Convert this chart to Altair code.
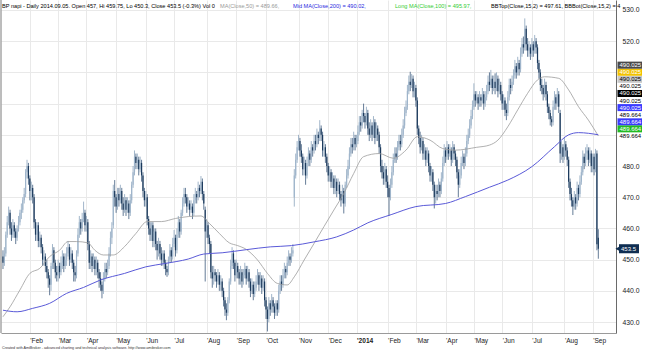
import altair as alt
import pandas as pd

# ---------------- data ----------------
closes = [
449,452,458,462,465,460,458,461,459,457,460,462,465,466,469,471,478,480,476,472,
473,470,462,458,461,456,457,454,450,451,448,446,444,442,448,453,449,446,445,448,446,
449,451,448,450,452,454,450,452,449,446,445,452,458,462,460,463,465,461,462,455,
449,451,448,450,447,449,446,444,442,440,444,447,446,448,452,457,460,472,470,467,471,469,472,468,466,469,
466,468,465,469,474,478,483,481,482,479,481,477,472,469,470,463,460,458,461,456,459,455,453,455,
452,450,452,449,447,446,450,453,451,455,457,453,458,462,459,465,468,471,470,467,468,466,467,465,469,471,470,473,472,475,471,468,
459,461,457,455,446,444,446,445,443,445,442,443,440,437,434,433,437,443,448,452,449,445,448,446,444,446,443,445,447,444,
446,443,440,442,439,441,443,445,442,444,441,443,437,434,431,436,434,437,435,433,436,434,440,443,442,445,447,446,449,451,450,452,453,477,
482,486,488,485,483,479,481,477,481,484,482,486,485,488,487,490,489,492,490,485,486,483,480,477,478,475,476,473,475,472,474,471,469,472,468,474,477,480,484,487,486,489,487,488,491,494,493,497,496,494,497,492,
490,493,490,494,489,492,490,486,480,478,476,479,475,473,470,474,478,482,484,483,486,488,487,490,493,497,499,504,507,506,508,504,505,501,492,489,486,488,484,485,482,484,
480,477,478,474,470,472,471,474,472,476,481,485,483,486,484,485,482,486,484,482,478,474,477,481,483,481,484,488,490,493,496,499,503,501,502,500,502,501,503,500,502,504,507,506,
508,505,507,505,508,504,506,503,500,501,498,497,502,506,505,507,509,512,510,513,511,516,519,518,524,519,517,518,516,519,
517,520,518,513,510,506,505,503,506,503,499,497,495,494,499,502,500,503,499,484,486,483,487,485,482,475,471,469,467,470,
468,473,471,475,478,483,481,484,485,482,484,480,483,479,484,454.9,453.5,
]

opens = [
451,449,452,458,462,465,460,458,461,459,457,460,462,465,466,469,471,478,480,476,
472,473,470,462,458,461,456,457,454,450,451,448,446,444,442,448,453,449,446,445,448,
446,449,451,448,450,452,454,450,452,449,446,445,452,458,462,460,463,465,461,462,
455,449,451,448,450,447,449,446,444,442,440,444,447,446,448,452,457,461,472,470,467,471,469,472,468,466,
469,466,468,465,469,474,478,483,481,482,479,481,477,472,469,470,463,460,458,461,456,459,455,453,
455,452,450,452,449,447,446,450,453,451,455,457,453,458,462,459,465,468,471,470,467,468,466,467,465,469,471,470,473,472,475,471,
466,459,461,457,455,446,444,446,445,443,445,442,443,440,437,434,433,437,443,448,452,449,445,448,446,444,446,443,445,447,
444,446,443,440,442,439,441,443,445,442,444,441,443,437,434,431,436,434,437,435,433,436,434,440,443,442,445,447,446,449,451,450,452,470,
477,482,486,488,485,483,479,481,477,481,484,482,486,485,488,487,490,489,492,490,485,486,483,480,477,478,475,476,473,475,472,474,471,469,472,468,474,477,480,484,487,486,489,487,488,491,494,493,497,496,494,497,
492,490,493,490,494,489,492,490,486,480,478,476,479,475,473,470,474,478,482,484,483,486,488,487,490,493,497,499,504,507,506,508,504,505,501,492,489,486,488,484,485,482,
484,480,477,478,474,470,472,471,474,472,476,481,485,483,486,484,485,482,486,484,482,478,474,477,481,483,481,484,488,490,493,496,499,503,501,502,500,502,501,503,500,502,504,507,
506,508,505,507,505,508,504,506,503,500,501,498,497,502,506,505,507,509,512,510,513,511,516,519,518,524,519,517,518,516,
519,517,520,518,513,510,506,505,503,506,503,499,497,495,494,499,502,500,503,497,484,486,483,487,485,482,475,471,469,467,
470,468,473,471,475,478,483,481,484,485,482,484,480,483,479,484,457,
]

highs = [
453,454,459,464,467,466,462,463,462,460,461,464,466,468,470,473,479,482,481,477,
475,474,471,463,462,462,459,458,455,453,452,450,447,445,449,455,454,450,448,450,449,
451,453,452,452,454,456,455,454,453,450,448,453,460,464,463,465,468.6,466,464,463,
456,453,452,452,451,451,450,447,446,443,446,449,449,450,454,459,462,474,475.5,471,473,473,474,473,470,471,
470,470,469,471,475,480,485,484,484,483,483,482,478,473,472,471,464,462,462,462,460,460,456,457,
456,454,453,453,450,448,451,455,454,457,459.5,458,460,464,463,466,470,473,473,471,470,469,469,468,471,473,472,475,474,476.8,476,472,
467,463,462,458,456,448,448,447,446,447,446,445,444,441,438,436,438,444,450,454,453,450,450,449,447,448,447,447,449,448,
448,447,444,444,443,443,445,447,446,446,445,445,444,438,435,438,437,439,438,436,437,437,442,445,445,447,449,448,451,453,452,454,455,479,
484,488,490,489,487,484,483,482,483,486,485,488,487,490,490,492,491,494.7,493,491,488,487,484,481,480,479,478,477,477,476,476,475,472,474,473,475,479,482,486,489,489,491,490,490,493,496,496,498,500,497,499,498,
494,495,494,496,495,494,493,491,487,482,480,481,480,477,474,476,480,484,486,486,488,490,490,492,495,499,501,506,509,510.2,509.5,509,507,506,502,493,491,490,489,487,486,486,
485,481,480,479,475,474,474,476,475,478,483,487,486,488,487,487,486,488,487,485,483,479,479,483,485,484,486,490,492,495,498,501,506.5,504,504,503,504,503,505,504,504,506,509,510,
510.8,509,509,509.7,510,509,508,507,504,503,502,500,504,508,508,509,511,514,513,515,514,518,521,521.5,527.3,525,521,520,519,521,
520,522,521,519,514,511,508,506,508,507,504,500,498,496,501,504,503,505,504,498,488,487,489,488,486,483,476,473,470,472,
471,475,474,477,480,485,484,486,487,486,486,485,484,484,485.5,485,459.75,
]

lows = [
447,448,451,457,461,458,456,457,457,455,456,459,461,463,465,468,470,476,474,469,
469,468,460,456,456,454,454,452,448,448,446,444,441,438.6,440,447,447,444,443,443,444,
445,447,446,447,448,451,448,449,447,443,443,444,451,457,458,459,462,459,459,453,
447,447,446,447,445,445,444,441,440,437.6,439,443,444,445,447,451,455,460,467,465,466,467,468,466,464,465,
464,465,463,464,468,473,477,479,479,477,478,475,470,467,467,461,458,456,456,454,454,453,450,451,
450,448,448,447,445,444.5,445,449,449,450,454,451,452,457,457,458,464,467,468,465,466,464,465,463,464,468,468,469,470,471,469,466,
443,457,455,452,444,441,442,443,441,442,440,440,438,435,432,430.6,432,436,442,447,447,443,444,444,442,442,441,442,444,442,
443,441,438,439,437,438,440,442,440,441,439,440,435,431,427,430,432,433,433,431,432,432,433,439,440,441,444,444,445,448,448,449,451,467,
476,481,485,483,481,477,477,474,476,480,480,481,483,484,485,486,487,488,488,483,483,481,478,475,475,473,473,471,471,470,471,469,467,468,464.8,467,473,476,479,483,484,485,485,486,487,490,491,492,494,492,493,490,
488,489,488,489,487,488,488,484,478,476,474,474,473,470,464,469,473,477,481,481,482,485,485,486,489,492,496,498,503,504,505,502,502,499,490,487,484,485,482,482,480,481,
478,475,475,472,466.4,468,469,470,470,471,475,480,481,482,482,483,480,481,482,480,476,470,473,476,480,479,480,483,487,489,492,495,498,499,500,498,499,499,500,498,499,501,503,504,
505,503,504,503,504,502,503,501,498,498,496,494.7,496,501,503,504,506,508,508,509,509,510,515,516,517,517,515,515,514,515,
515,516,516,511,508,504,503,501,502,501,497,495,493,492.6,493,498,498,499,497,481,482,481,482,483,480,473,469,467,464.3,466,
466,467,469,470,474,477,479,480,482,480,481,478,478,477,478,453,450.3,
]

# moving averages (bar index, value)
ma50_idx = [0,5,12,19,26,33,40,46,52,60,65,71,78,86,94,102,112,122,131,140,146,153,160,166,172,180,187,194,201,206,213,220,227,234,241,248,255,266,276,285,293,302,311,320,335,344,350,357,364,371,378,383,393,400,407,414,421]
ma50_val = [431.7,434.9,440.3,445.6,447.2,451,453,455.8,455.8,455.4,453,451.5,451.5,454.2,458.4,462.2,462.2,463.2,463.8,464,461.6,458.4,455.4,454.5,453.3,449.9,445.6,442.4,441.9,444.5,449.9,455.2,460.6,465.9,471.2,477.6,483,484,482.5,485.1,489.4,488.3,485.6,485.1,486,486.7,488.3,492.6,498,503.3,507.6,508.6,508.1,504.4,499,494.7,489.66]
ma200_idx = [0,10,21,33,45,57,69,86,101,115,131,142,155,172,189,204,220,236,248,258,275,292,313,327,344,357,374,390,400,407,421]
ma200_val = [433.8,433.3,434.4,436,439.2,441.1,443.5,445.6,447.7,448.8,450.2,451.8,452.2,453.2,454.1,454.5,455.7,457.3,459.5,461.8,464.5,467,468,470.2,473.2,475.5,479.8,486.2,490,490.7,490.02]

# x axis: first bar of each month
month_idx = [19,39,59,80,101,121,144,165,186,209,230,250,272,292,313,333,353,374,397,417]
month_lbl = ["Feb","Mar","Apr","May","Jun","Jul","Aug","Sep","Oct","Nov","Dec","2014",
             "Feb","Mar","Apr","May","Jun","Jul","Aug","Sep"]
y_ticks = [430,440,450,460,470,480,490,500,510,520,530]

title_parts = ["BP napi - Daily 2014.09.05. Open 457, Hi 459.75, Lo 450.3, Close 453.5 (-0.3%) Vol 0",
               "MA(Close,50) = 489.66,",
               "Mid MA(Close,200) = 490.02,",
               "Long MA(Close,100) = 495.97,",
               "BBTop(Close,15,2) = 497.61, BBBot(Close,15,2) = 4"]
title_colors = ["#000000", "#9a9a9a", "#2a2ae0", "#33cc33", "#000000"]
title_x = [1, 219, 292, 394, 490]

val_labels = ["489.664","489.664","489.664","489.664","490.025","490.025","490.025",
              "490.025","490.025","490.025","490.025"]
val_bg = ["#ffffff","#22bb22","#3a3aff","#ffffff","#3a3aff","#ffffff","#000000",
          "#ffffff","#c8c8c8","#f2c200","#4a4a4a"]
val_fg = ["#000000","#ffffff","#ffffff","#000000","#ffffff","#000000","#ffffff",
          "#000000","#000000","#ffffff","#ffffff"]
last_close = 453.5

footer = "Created with AmiBroker - advanced charting and technical analysis software. http://www.amibroker.com"

# ---------------- build ----------------
n = len(closes)
for nm, arr in [("opens", opens), ("highs", highs), ("lows", lows)]:
    if len(arr) != n:
        raise ValueError(f"{nm} has {len(arr)} values, closes has {n}")

df = pd.DataFrame({"i": range(n), "o": opens, "h": highs, "l": lows, "c": closes})

FONT = "Liberation Sans"
xs = alt.Scale(domain=[-1.4, 433.5], nice=False, zero=False)
ys = alt.Scale(domain=[426.5, 533.2], nice=False, zero=False)

expr = ""
for k, v in zip(month_idx, month_lbl):
    expr += f"datum.value == {k} ? \"'{v}\" : "
expr += "''"

UP_BODY, DN_BODY = "#9fb5cb", "#1c3a5c"
UP_WICK, DN_WICK = "#8aa3bc", "#3d5b7c"

wicks = alt.Chart(df).mark_rule(strokeWidth=0.8).encode(
    x=alt.X("i:Q", scale=xs, title=None,
            axis=alt.Axis(values=month_idx, labelExpr=expr, grid=True, gridColor="#e9e9e9",
                          gridWidth=1, ticks=False, domainColor="#9a9a9a", labelAlign="left",
                          labelBaseline="top", labelPadding=4, labelFont=FONT, labelFontSize=6.6,
                          labelColor="#222222", labelOverlap=False, labelFlush=False,
                          tickCount=200,
                          labelFontWeight={"condition": {"test": "datum.value == 250", "value": "bold"},
                                           "value": "normal"})),
    y=alt.Y("l:Q", scale=ys, title=None,
            axis=alt.Axis(orient="right", values=y_ticks, grid=True, gridColor="#e9e9e9",
                          ticks=False, labelPadding=6, domainColor="#6a6a6a", labelFont=FONT,
                          labelFontSize=6.8, labelColor="#222222", labelAlign="left",
                          labelExpr="datum.value >= 490 && datum.value <= 510 ? '' : datum.label",
                          tickCount=200, labelOverlap=False, labelFlush=False)),
    y2="h:Q",
    color=alt.condition("datum.c >= datum.o", alt.value(UP_WICK), alt.value(DN_WICK)),
)

bodies = alt.Chart(df).mark_rule(strokeWidth=1.2).encode(
    x=alt.X("i:Q", scale=xs),
    y=alt.Y("o:Q", scale=ys),
    y2="c:Q",
    color=alt.condition("datum.c >= datum.o", alt.value(UP_BODY), alt.value(DN_BODY)),
)

ma50 = alt.Chart(pd.DataFrame({"i": ma50_idx, "v": ma50_val})).mark_line(
    color="#9c9c9c", strokeWidth=0.8, interpolate="monotone").encode(
    x=alt.X("i:Q", scale=xs), y=alt.Y("v:Q", scale=ys))
ma200 = alt.Chart(pd.DataFrame({"i": ma200_idx, "v": ma200_val})).mark_line(
    color="#5a5ad8", strokeWidth=1.0, interpolate="monotone").encode(
    x=alt.X("i:Q", scale=xs), y=alt.Y("v:Q", scale=ys))

left_border = alt.Chart(pd.DataFrame({"a": [0]})).mark_rule(color="#7a7a7a", strokeWidth=1).encode(
    x=alt.value(0), y=alt.value(0), y2=alt.value(333))

title_df = pd.DataFrame({"t": title_parts, "col": title_colors, "px": title_x})
title = alt.Chart(title_df).mark_text(align="left", baseline="middle", font=FONT, fontSize=5.6).encode(
    x=alt.X("px:Q", scale=None), y=alt.value(5.5), text="t:N",
    color=alt.Color("col:N", scale=None))

foot = alt.Chart(pd.DataFrame({"t": [footer]})).mark_text(
    align="left", baseline="middle", font=FONT, fontSize=3.7, color="#333333").encode(
    x=alt.value(1), y=alt.value(347.5), text="t:N")

# stacked value labels on the right
step = 2.266
lab_df = pd.DataFrame({"t": val_labels, "bg": val_bg, "fg": val_fg})
lab_df["yc"] = [489.664 + k * step for k in range(len(val_labels))]
lab_df["y1"] = lab_df["yc"] - step / 2
lab_df["y2"] = lab_df["yc"] + step / 2
boxes = alt.Chart(lab_df).mark_rect().encode(
    x=alt.value(616.5), x2=alt.value(641),
    y=alt.Y("y1:Q", scale=ys), y2="y2:Q",
    color=alt.Color("bg:N", scale=None))
box_txt = alt.Chart(lab_df).mark_text(align="left", baseline="middle", font=FONT, fontSize=6).encode(
    x=alt.value(618.5), y=alt.Y("yc:Q", scale=ys), text="t:N",
    color=alt.Color("fg:N", scale=None))

lc_df = pd.DataFrame({"v": [last_close], "t": [f"{last_close}"],
                      "y1": [last_close - 1.45], "y2": [last_close + 1.45]})
lc_box = alt.Chart(lc_df).mark_rect(color="#0f2e52").encode(
    x=alt.value(618), x2=alt.value(638), y=alt.Y("y1:Q", scale=ys), y2="y2:Q")
lc_arrow = alt.Chart(lc_df).mark_point(shape="triangle-left", filled=True, color="#0f2e52",
                                       size=22, opacity=1).encode(
    x=alt.value(616.5), y=alt.Y("v:Q", scale=ys))
lc_txt = alt.Chart(lc_df).mark_text(align="left", baseline="middle", font=FONT, fontSize=6,
                                    color="#ffffff").encode(
    x=alt.value(620), y=alt.Y("v:Q", scale=ys), text="t:N")

chart = alt.layer(
    wicks, bodies, ma50, ma200, left_border, title, foot,
    boxes, box_txt, lc_box, lc_arrow, lc_txt
).properties(
    width=615, height=333,
    autosize=alt.AutoSizeParams(type="none"),
    padding={"left": 1, "top": 0, "right": 29, "bottom": 18},
    background="#ffffff",
).configure_view(stroke=None)

chart.save("out.html", embed_options={"renderer": "svg", "actions": False})
